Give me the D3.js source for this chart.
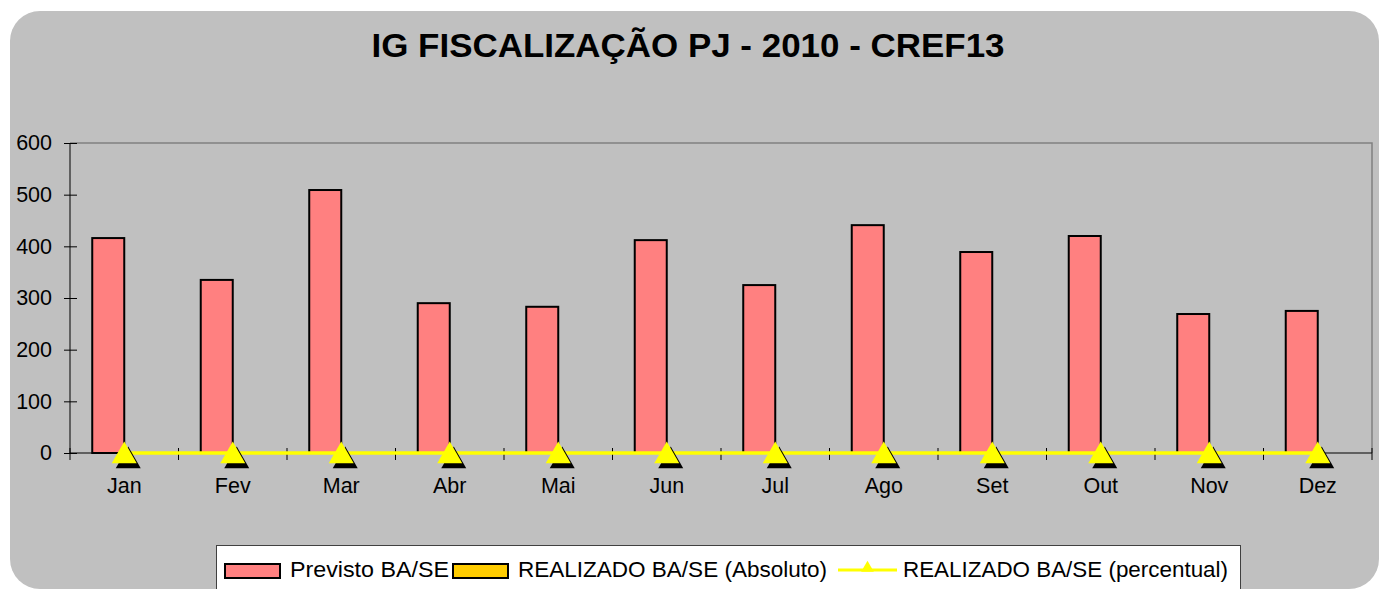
<!DOCTYPE html>
<html>
<head>
<meta charset="utf-8">
<script src="https://cdn.jsdelivr.net/npm/d3@7"></script>
<style>
  body { margin: 0; background: #fff; }
  svg { display: block; font-family: "Liberation Sans", Arial, sans-serif; }
</style>
</head>
<body>
<div class="chartContainer"></div>
<script>
var months = ["Jan", "Fev", "Mar", "Abr", "Mai", "Jun", "Jul", "Ago", "Set", "Out", "Nov", "Dez"];
var previsto = [416, 335, 509, 290, 283, 412, 325, 441, 389, 420, 269, 275];
var realizadoAbs = [0, 0, 0, 0, 0, 0, 0, 0, 0, 0, 0, 0];
var realizadoPct = [0, 0, 0, 0, 0, 0, 0, 0, 0, 0, 0, 0];
var yTicks = [0, 100, 200, 300, 400, 500, 600];
var seriesNames = ["Previsto BA/SE", "REALIZADO BA/SE (Absoluto)", "REALIZADO BA/SE (percentual)"];

var W = 1380, H = 589;
var plot = { left: 70, right: 1372, top: 143, bottom: 453 };

var svg = d3.select(".chartContainer")
    .append("svg")
    .attr("width", W)
    .attr("height", H);

// gray rounded background
svg.append("rect")
    .attr("x", 10).attr("y", 11)
    .attr("width", 1369).attr("height", 578)
    .attr("rx", 30).attr("ry", 30)
    .attr("fill", "#c0c0c0");

svg.append("text")
    .attr("x", 688).attr("y", 57)
    .attr("text-anchor", "middle")
    .attr("font-size", 34)
    .attr("font-weight", "bold")
    .attr("textLength", 633)
    .attr("lengthAdjust", "spacingAndGlyphs")
    .text("IG FISCALIZAÇÃO PJ - 2010 - CREF13");

var x = d3.scaleBand()
    .domain(months)
    .range([plot.left, plot.right])
    .padding(0);

var x1 = d3.scaleBand()
    .domain(["previsto", "absoluto"])
    .range([0, x.bandwidth()])
    .paddingInner(0)
    .paddingOuter(0.695);

var y = d3.scaleLinear()
    .domain([0, 600])
    .range([plot.bottom, plot.top]);

// plot frame (top + right, gray)
svg.append("path")
    .attr("d", "M" + plot.left + "," + y(600) + "H" + plot.right + "V" + y(0))
    .attr("fill", "none")
    .attr("stroke", "#808080")
    .attr("stroke-width", 1.5);

// y axis
var yAxis = svg.append("g")
    .attr("transform", "translate(" + plot.left + ",0)")
    .call(d3.axisLeft(y).tickValues(yTicks).tickSize(6).tickPadding(12));
yAxis.select(".domain").attr("stroke", "#000").attr("d", "M0," + y(600) + "V" + y(0));
yAxis.selectAll(".tick line").attr("x1", 7).attr("x2", -6).attr("stroke", "#000");
yAxis.selectAll(".tick text")
    .attr("font-size", 21.5)
    .attr("font-family", "Liberation Sans, Arial, sans-serif")
    .attr("fill", "#000");

// x axis
var xAxis = svg.append("g")
    .attr("transform", "translate(0," + y(0) + ")")
    .call(d3.axisBottom(x).tickSize(0).tickPadding(25));
xAxis.select(".domain").attr("stroke", "#000").attr("d", "M" + plot.left + ",0H" + plot.right);
xAxis.selectAll(".tick text")
    .attr("font-size", 21.5)
    .attr("font-family", "Liberation Sans, Arial, sans-serif")
    .attr("fill", "#000");
xAxis.selectAll(".sep")
    .data(months.concat(["end"]))
    .enter()
    .append("line")
    .attr("class", "sep")
    .attr("x1", function (d, i) { return plot.left + i * x.step(); })
    .attr("x2", function (d, i) { return plot.left + i * x.step(); })
    .attr("y1", -5).attr("y2", 7)
    .attr("stroke", "#000");

// bars
svg.selectAll(".barP")
    .data(previsto)
    .enter()
    .append("rect")
    .attr("class", "barP")
    .attr("x", function (d, i) { return x(months[i]) + x1("previsto"); })
    .attr("y", function (d) { return y(d); })
    .attr("width", x1.bandwidth())
    .attr("height", function (d) { return y(0) - y(d); })
    .attr("fill", "#ff8080")
    .attr("stroke", "#000")
    .attr("stroke-width", 2);

svg.selectAll(".barA")
    .data(realizadoAbs)
    .enter()
    .append("rect")
    .attr("class", "barA")
    .attr("x", function (d, i) { return x(months[i]) + x1("absoluto"); })
    .attr("y", function (d) { return y(d); })
    .attr("width", x1.bandwidth())
    .attr("height", function (d) { return y(0) - y(d); })
    .attr("fill", "#ffcc00")
    .attr("stroke", "#000")
    .attr("stroke-width", 1);

// percentual line
var cx = function (d, i) { return x(months[i]) + x.bandwidth() / 2; };
var line = d3.line()
    .x(cx)
    .y(function (d) { return y(d); });

svg.append("path")
    .datum(realizadoPct)
    .attr("d", line)
    .attr("fill", "none")
    .attr("stroke", "#ffff00")
    .attr("stroke-width", 3.5);

var tri = d3.symbol().type(d3.symbolTriangle).size(270);

svg.selectAll(".triShadow")
    .data(realizadoPct)
    .enter()
    .append("path")
    .attr("class", "triShadow")
    .attr("d", tri)
    .attr("transform", function (d, i) { return "translate(" + (cx(d, i) + 4) + "," + (y(d) + 8) + ")"; })
    .attr("fill", "#000");

svg.selectAll(".tri")
    .data(realizadoPct)
    .enter()
    .append("path")
    .attr("class", "tri")
    .attr("d", tri)
    .attr("transform", function (d, i) { return "translate(" + cx(d, i) + "," + (y(d) + 3) + ")"; })
    .attr("fill", "#ffff00");

// legend
var legend = svg.append("g");
legend.append("rect")
    .attr("x", 216.5).attr("y", 545.5)
    .attr("width", 1024).attr("height", 60)
    .attr("fill", "#fff")
    .attr("stroke", "#404040")
    .attr("stroke-width", 1);

var legendItems = [
    { name: seriesNames[0], kind: "bar", color: "#ff8080", sx: 225, tx: 290, tw: 159 },
    { name: seriesNames[1], kind: "bar", color: "#ffcc00", sx: 453, tx: 518, tw: 309 },
    { name: seriesNames[2], kind: "line", color: "#ffff00", sx: 838, tx: 903, tw: 325 }
];

legendItems.forEach(function (it) {
    if (it.kind === "bar") {
        legend.append("rect")
            .attr("x", it.sx).attr("y", 564)
            .attr("width", 55).attr("height", 14)
            .attr("fill", it.color)
            .attr("stroke", "#000")
            .attr("stroke-width", 2);
    } else {
        legend.append("line")
            .attr("x1", it.sx).attr("x2", it.sx + 59)
            .attr("y1", 570).attr("y2", 570)
            .attr("stroke", it.color)
            .attr("stroke-width", 3);
        legend.append("path")
            .attr("d", d3.symbol().type(d3.symbolTriangle).size(70))
            .attr("transform", "translate(" + (it.sx + 29.5) + ",568)")
            .attr("fill", it.color);
    }
    legend.append("text")
        .attr("x", it.tx).attr("y", 577)
        .attr("font-size", 22)
        .attr("textLength", it.tw)
        .attr("lengthAdjust", "spacingAndGlyphs")
        .text(it.name);
});
</script>
</body>
</html>
